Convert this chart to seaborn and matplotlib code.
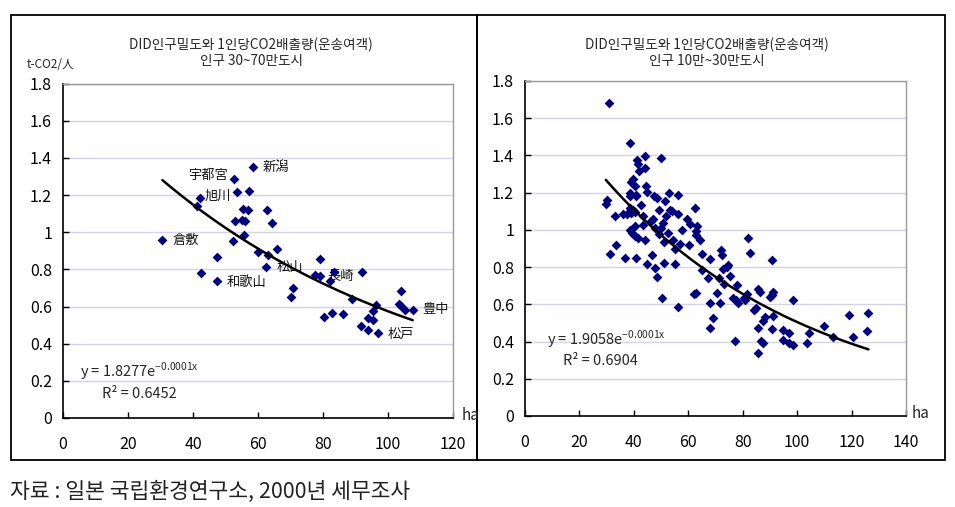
import numpy as np
import pandas as pd
import matplotlib
matplotlib.use("Agg")
import matplotlib.pyplot as plt
import seaborn as sns
from matplotlib.patches import Rectangle

# left panel: cities of 300k-700k, DID density (ha) vs CO2 per person
left_density = [58.6, 52.7, 53.6, 57.2, 42.2, 41.1, 55.3, 57.0, 62.9, 53.0, 55.2, 56.0,
                64.4, 30.6, 52.2, 55.7, 59.9, 63.2, 65.9, 47.4, 62.6, 42.5, 47.5, 79.0,
                77.5, 79.1, 83.4, 82.2, 92.1, 70.8, 70.0, 88.9, 80.3, 82.8, 86.2, 96.2,
                95.4, 93.7, 95.4, 91.8, 93.9, 96.8, 104.1, 103.3, 104.0, 105.3, 107.6]
left_co2 = [1.349, 1.288, 1.218, 1.223, 1.182, 1.139, 1.124, 1.117, 1.119, 1.061, 1.067, 1.061,
            1.049, 0.957, 0.955, 0.986, 0.893, 0.878, 0.909, 0.864, 0.815, 0.780, 0.735, 0.857,
            0.767, 0.765, 0.788, 0.735, 0.787, 0.700, 0.652, 0.639, 0.542, 0.566, 0.558, 0.607,
            0.577, 0.537, 0.530, 0.496, 0.471, 0.460, 0.681, 0.611, 0.603, 0.582, 0.582]
left_names = {0: "新潟", 1: "宇都宮", 4: "旭川", 13: "倉敷", 20: "松山",
              22: "和歌山", 25: "長崎", 41: "松戸", 46: "豊中"}

# right panel: cities of 100k-300k
right_density = [30.9, 38.5, 41.2, 41.5, 44.1, 49.9, 44.1, 41.9, 39.7, 38.8, 40.6, 44.3,
                 38.5, 38.7, 40.7, 40.9, 45.0, 47.4, 48.5, 52.8, 56.2, 51.6, 30.2, 29.7,
                 42.5, 38.5, 39.7, 33.0, 36.0, 37.5, 39.1, 40.3, 43.4, 49.2, 53.1, 54.1,
                 51.9, 56.2, 62.3, 47.0, 46.4, 50.7, 50.1, 40.6, 43.4, 59.5, 60.5, 63.3,
                 62.7, 62.9, 38.5, 39.5, 40.3, 41.5, 47.6, 49.2, 52.5, 44.0, 51.0, 57.8,
                 54.4, 64.4, 55.0, 57.1, 60.2, 33.6, 31.1, 36.6, 40.9, 46.8, 45.0, 50.9,
                 55.3, 65.1, 67.8, 47.9, 48.5, 65.1, 67.2,
                 82.1, 82.8, 90.9, 72.2, 72.4, 72.7, 74.6, 74.1, 75.5, 73.0, 77.9, 71.2,
                 70.6, 67.9, 71.5, 62.0, 62.7, 50.2, 56.2, 69.1, 67.9, 76.6, 77.6, 78.4,
                 77.0, 80.4, 81.0, 81.5, 85.5, 86.4, 90.1, 90.8, 91.1, 98.5, 84.3, 84.9,
                 91.1, 87.6, 88.3, 85.6, 90.9, 86.8, 87.3, 85.6, 94.7, 97.1, 94.9, 96.9,
                 98.3, 103.6, 104.4, 109.8, 113.0, 119.2, 120.6, 126.2, 125.8]
right_co2 = [1.684, 1.469, 1.376, 1.353, 1.396, 1.384, 1.332, 1.314, 1.275, 1.257, 1.234, 1.234,
             1.198, 1.181, 1.190, 1.181, 1.202, 1.181, 1.172, 1.198, 1.190, 1.154, 1.163, 1.140,
             1.132, 1.118, 1.109, 1.077, 1.086, 1.086, 1.091, 1.097, 1.074, 1.109, 1.109, 1.100,
             1.074, 1.083, 1.115, 1.061, 1.047, 1.038, 1.011, 1.020, 1.024, 1.061, 1.033, 1.020,
             0.994, 0.971, 0.999, 0.985, 0.967, 0.958, 1.011, 0.976, 0.985, 0.944, 0.935, 0.997,
             0.944, 0.946, 0.896, 0.926, 0.917, 0.917, 0.872, 0.851, 0.851, 0.865, 0.815, 0.821,
             0.815, 0.872, 0.842, 0.794, 0.748, 0.784, 0.741,
             0.958, 0.878, 0.839, 0.890, 0.865, 0.789, 0.812, 0.801, 0.753, 0.709, 0.704, 0.741,
             0.661, 0.609, 0.609, 0.655, 0.659, 0.634, 0.588, 0.525, 0.475, 0.632, 0.623, 0.605,
             0.401, 0.634, 0.625, 0.655, 0.682, 0.668, 0.637, 0.650, 0.668, 0.623, 0.572, 0.579,
             0.540, 0.513, 0.530, 0.475, 0.466, 0.402, 0.392, 0.337, 0.461, 0.445, 0.410, 0.392,
             0.381, 0.394, 0.445, 0.484, 0.422, 0.541, 0.427, 0.552, 0.459]

title_main = "DID인구밀도와 1인당CO2배출량(운송여객)"
left_sub = "인구 30~70만도시"
right_sub = "인구 10만~30만도시"
left_eq = "y = 1.8277e$^{\\mathregular{-0.0001x}}$"
right_eq = "y = 1.9058e$^{\\mathregular{-0.0001x}}$"
left_r2 = "R² = 0.6452"
right_r2 = "R² = 0.6904"
source = "자료 : 일본 국립환경연구소, 2000년 세무조사"

sns.set_theme(style="white")
plt.rcParams["font.family"] = ["Noto Sans CJK JP", "DejaVu Sans"]
plt.rcParams["mathtext.fontset"] = "dejavusans"

W, H = 955, 507
fig = plt.figure(figsize=(9.55, 5.07), dpi=100)

def fx(px):
    return px / W

def fy(py):
    return 1 - py / H

ax1 = fig.add_axes([fx(63), fy(418), 390 / W, 334.5 / H])
ax2 = fig.add_axes([fx(525), fy(416), 381 / W, 335 / H])

# outer frames around each chart
for x0, x1 in [(11, 477), (477, 945)]:
    fig.add_artist(Rectangle((fx(x0), fy(460)), (x1 - x0) / W, 445 / H,
                             transform=fig.transFigure, fill=False,
                             ec="black", lw=1.3))

def draw(ax, dens, co2, xmax):
    df = pd.DataFrame({"density": dens, "co2": co2})
    # exponential trend line, fitted like the spreadsheet does
    b, a = np.polyfit(df["density"], np.log(df["co2"]), 1)
    xs = np.linspace(df["density"].min(), df["density"].max(), 100)
    sns.lineplot(x=xs, y=np.exp(a) * np.exp(b * xs), ax=ax, color="black",
                 lw=1.8, zorder=4, estimator=None)
    sns.scatterplot(data=df, x="density", y="co2", ax=ax, marker="D",
                    color="#000080", s=25, linewidth=0, zorder=3)
    ax.set_xlim(0, xmax)
    ax.set_ylim(0, 1.8)
    ax.set_xticks(np.arange(0, xmax + 1, 20))
    yt = np.round(np.arange(0, 1.81, 0.2), 1)
    ax.set_yticks(yt)
    ax.set_yticklabels([f"{v:g}" for v in yt])
    ax.set_xlabel("")
    ax.set_ylabel("")
    ax.yaxis.grid(True, color="#d4d4e6", lw=1)
    ax.xaxis.grid(False)
    ax.set_axisbelow(True)
    for s in ["top", "right"]:
        ax.spines[s].set_color("#9a9a9a")
        ax.spines[s].set_linewidth(1)
    for s in ["left", "bottom"]:
        ax.spines[s].set_color("black")
        ax.spines[s].set_linewidth(1.2)
    ax.tick_params(axis="x", direction="in", length=4, width=1, pad=13,
                   labelsize=11.5, colors="black", bottom=True)
    ax.tick_params(axis="y", direction="in", length=4, width=1, pad=8,
                   labelsize=11.5, colors="black", left=True)
    ax.set_facecolor("white")

draw(ax1, left_density, left_co2, 120)
draw(ax2, right_density, right_co2, 140)

# city names next to their points
offsets = {0: (9, 0, "left"), 1: (-6, 3, "right"), 4: (4, 2, "left"),
           13: (10, 0, "left"), 20: (10, -1, "left"), 22: (9, -1, "left"),
           25: (7, -1, "left"), 41: (10, -2, "left"), 46: (10, 0, "left")}
for i, name in left_names.items():
    dx, dy, ha = offsets[i]
    ax1.annotate(name, (left_density[i], left_co2[i]), xytext=(dx, dy),
                 textcoords="offset pixels", ha=ha, va="center",
                 fontsize=9.5, color="#111111", zorder=5)

# titles
for cx, sub in [(251, left_sub), (707, right_sub)]:
    fig.text(fx(cx), fy(44.5), title_main, ha="center", va="center", fontsize=9.8)
    fig.text(fx(cx), fy(60.5), sub, ha="center", va="center", fontsize=9.8)

fig.text(fx(27), fy(64), "t-CO2/人", ha="left", va="center", fontsize=8.5)
fig.text(fx(462), fy(415), "ha", ha="left", va="center", fontsize=11)
fig.text(fx(912), fy(413), "ha", ha="left", va="center", fontsize=11)

# trend equations
fig.text(fx(80), fy(371), left_eq, ha="left", va="center", fontsize=10.5)
fig.text(fx(102), fy(394), left_r2, ha="left", va="center", fontsize=10.5)
fig.text(fx(547), fy(339), right_eq, ha="left", va="center", fontsize=10.5)
fig.text(fx(563), fy(361), right_r2, ha="left", va="center", fontsize=10.5)

fig.text(fx(10), fy(492), source, ha="left", va="center", fontsize=15.5,
         family=["Noto Sans CJK KR", "DejaVu Sans"], color="#222222")

fig.savefig("out.png", dpi=100, facecolor="white")
